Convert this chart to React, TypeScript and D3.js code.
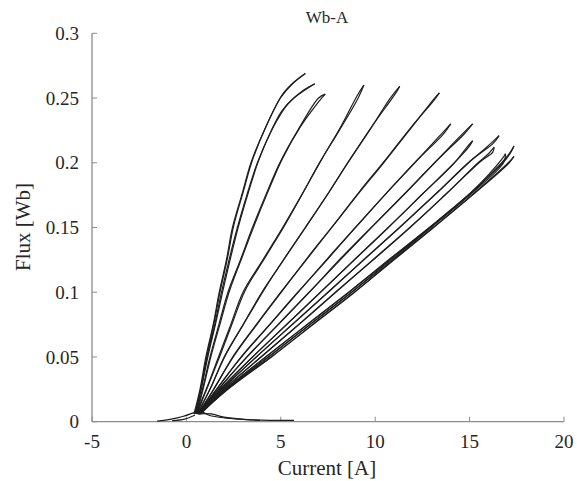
import React from "react";
import * as d3 from "d3";

type Pt = [number, number];

const chartTitle = "Wb-A";
const xTitle = "Current [A]";
const yTitle = "Flux [Wb]";
const xTicks = [-5, 0, 5, 10, 15, 20];
const yTicks = [0, 0.05, 0.1, 0.15, 0.2, 0.25, 0.3];

// each loop: rising branch up to the tip, then falling branch
const loop1: Pt[] = [[0.40,0.006],[0.72,0.025],[1.03,0.05],[1.42,0.075],[1.74,0.1],[2.12,0.125],[2.44,0.15],[2.93,0.175],[3.42,0.2],[4.12,0.225],[4.98,0.25],[5.62,0.261],[6.30,0.269],
  [5.75,0.263],[5.1,0.253],[4.22,0.228],[3.52,0.203],[3.0,0.177],[2.5,0.151],[2.17,0.126],[1.79,0.101],[1.46,0.076],[1.09,0.051],[0.77,0.026],[0.45,0.006]];
const loop2: Pt[] = [[0.45,0.006],[0.76,0.025],[1.1,0.05],[1.5,0.075],[1.86,0.1],[2.26,0.125],[2.7,0.15],[3.2,0.175],[3.76,0.2],[4.5,0.225],[5.05,0.24],[5.7,0.25],[6.8,0.261],
  [6.2,0.256],[5.35,0.245],[4.62,0.228],[3.86,0.203],[3.28,0.177],[2.78,0.152],[2.33,0.126],[1.93,0.101],[1.55,0.076],[1.15,0.051],[0.8,0.026],[0.5,0.006]];
const loop3: Pt[] = [[0.5,0.006],[0.85,0.025],[1.25,0.05],[1.72,0.075],[2.2,0.1],[2.86,0.125],[3.5,0.15],[4.2,0.175],[4.95,0.2],[5.9,0.225],[7.0,0.25],[7.35,0.253],
  [7.0,0.247],[6.05,0.228],[5.08,0.203],[4.3,0.177],[3.6,0.152],[2.95,0.127],[2.28,0.101],[1.79,0.076],[1.31,0.051],[0.9,0.026],[0.55,0.006]];
const loop4: Pt[] = [[0.5,0.006],[1.05,0.025],[1.7,0.05],[2.35,0.075],[3.0,0.1],[4.05,0.125],[5.1,0.15],[6.1,0.175],[7.05,0.2],[8.1,0.225],[9.1,0.25],[9.4,0.26],
  [9.05,0.252],[8.22,0.229],[7.18,0.203],[6.22,0.178],[5.22,0.152],[4.18,0.127],[3.1,0.101],[2.43,0.076],[1.78,0.051],[1.1,0.026],[0.55,0.006]];
const loop5: Pt[] = [[0.55,0.006],[1.25,0.025],[2.0,0.05],[3.0,0.075],[4.0,0.1],[5.15,0.125],[6.3,0.15],[7.45,0.175],[8.55,0.2],[9.7,0.225],[10.8,0.25],[11.3,0.259],
  [11.05,0.253],[9.82,0.228],[8.68,0.203],[7.58,0.178],[6.4,0.152],[5.23,0.127],[4.08,0.101],[3.06,0.076],[2.06,0.051],[1.28,0.026],[0.6,0.006]];
const loop6: Pt[] = [[0.6,0.006],[1.45,0.025],[2.45,0.05],[3.7,0.075],[5.0,0.1],[6.35,0.125],[7.7,0.15],[9.05,0.175],[10.45,0.2],[11.8,0.225],[13.15,0.25],[13.4,0.254],
  [13.1,0.248],[11.93,0.228],[10.58,0.203],[9.18,0.178],[7.8,0.152],[6.43,0.127],[5.08,0.101],[3.78,0.076],[2.53,0.051],[1.48,0.026],[0.65,0.006]];
const loop7: Pt[] = [[0.6,0.006],[1.6,0.025],[2.9,0.05],[4.4,0.075],[5.9,0.1],[7.45,0.125],[8.95,0.15],[10.5,0.175],[12.1,0.2],[13.3,0.219],[14.0,0.23],
  [13.6,0.222],[12.22,0.202],[10.62,0.177],[9.08,0.152],[7.53,0.127],[5.98,0.101],[4.48,0.076],[2.98,0.051],[1.64,0.026],[0.65,0.006]];
const loop8: Pt[] = [[0.6,0.006],[1.7,0.025],[3.2,0.05],[4.85,0.075],[6.5,0.1],[8.15,0.125],[9.8,0.15],[11.5,0.175],[13.15,0.2],[14.4,0.219],[15.16,0.23],
  [14.7,0.222],[13.28,0.202],[11.62,0.177],[9.93,0.152],[8.23,0.127],[6.58,0.101],[4.93,0.076],[3.28,0.051],[1.74,0.026],[0.65,0.006]];
const loop9: Pt[] = [[0.6,0.006],[1.8,0.025],[3.5,0.05],[5.3,0.075],[7.1,0.1],[8.9,0.125],[10.7,0.15],[12.45,0.175],[14.2,0.2],[14.8,0.211],[15.16,0.217],
  [15.0,0.213],[14.33,0.202],[12.58,0.177],[10.83,0.152],[9.03,0.127],[7.18,0.101],[5.38,0.076],[3.58,0.051],[1.84,0.026],[0.65,0.006]];
const loop10: Pt[] = [[0.65,0.006],[1.9,0.025],[3.7,0.05],[5.6,0.075],[7.5,0.1],[9.4,0.125],[11.3,0.15],[13.15,0.175],[14.95,0.2],[15.9,0.212],[16.56,0.221],
  [16.25,0.215],[15.08,0.202],[13.28,0.177],[11.43,0.152],[9.53,0.127],[7.58,0.101],[5.68,0.076],[3.78,0.051],[1.94,0.026],[0.7,0.006]];
const loop11: Pt[] = [[0.65,0.006],[2.0,0.025],[3.95,0.05],[5.95,0.075],[7.9,0.1],[9.9,0.125],[11.85,0.15],[13.7,0.175],[15.45,0.2],[16.0,0.207],[16.3,0.212],
  [16.22,0.208],[15.58,0.201],[13.83,0.177],[11.98,0.152],[10.03,0.127],[7.98,0.101],[6.03,0.076],[4.03,0.051],[2.04,0.026],[0.7,0.006]];
const loop12: Pt[] = [[0.7,0.006],[2.1,0.025],[4.2,0.05],[6.4,0.075],[8.6,0.1],[10.75,0.125],[12.9,0.15],[14.95,0.175],[16.7,0.2],[17.1,0.207],[17.35,0.213],
  [17.22,0.209],[16.83,0.201],[15.08,0.177],[13.03,0.152],[10.88,0.127],[8.68,0.101],[6.48,0.076],[4.28,0.051],[2.14,0.026],[0.75,0.006]];
const loop13: Pt[] = [[0.7,0.006],[2.2,0.025],[4.5,0.05],[6.7,0.075],[8.9,0.1],[11.0,0.125],[13.1,0.15],[15.15,0.175],[17.1,0.2],[17.35,0.205],
  [17.12,0.201],[15.28,0.177],[13.23,0.152],[11.13,0.127],[8.98,0.101],[6.78,0.076],[4.58,0.051],[2.24,0.026],[0.75,0.006]];
const loop14: Pt[] = [[0.7,0.006],[2.15,0.025],[4.35,0.05],[6.55,0.075],[8.75,0.1],[10.9,0.125],[12.95,0.15],[15.0,0.175],[16.8,0.2],[16.9,0.207],
  [16.72,0.203],[15.08,0.177],[13.08,0.152],[10.98,0.127],[8.83,0.101],[6.63,0.076],[4.43,0.051],[2.19,0.026],[0.75,0.006]];

const tailLeft1: Pt[] = [[0.4,0.007],[-0.2,0.004],[-0.8,0.002],[-1.55,0.0005]];
const tailLeft2: Pt[] = [[0.45,0.005],[-0.1,0.002],[-0.75,0.0008]];
const tailRight1: Pt[] = [[0.4,0.006],[0.75,0.008],[1.2,0.005],[2.0,0.003],[3.5,0.0015],[5.7,0.001]];
const tailRight2: Pt[] = [[0.6,0.006],[1.3,0.006],[2.0,0.0035],[3.0,0.0018],[3.9,0.001]];

const loops = [loop1, loop2, loop3, loop4, loop5, loop6, loop7, loop8, loop9, loop10, loop11, loop12, loop13, loop14];
const tails = [tailLeft1, tailLeft2, tailRight1, tailRight2];

function splitAtTip(l: Pt[]): [Pt[], Pt[]] {
  let k = 0;
  l.forEach((p, i) => { if (p[1] > l[k][1]) k = i; });
  return [l.slice(0, k + 1), l.slice(k)];
}

export default function App() {
  const W = 577, H = 481;
  const x = d3.scaleLinear().domain([-5, 20]).range([92, 564]);
  const y = d3.scaleLinear().domain([0, 0.3]).range([421.7, 33.3]);
  const line = d3.line<Pt>().x(d => x(d[0])).y(d => y(d[1])).curve(d3.curveCatmullRom.alpha(0.5));
  const font = "'Liberation Serif', 'Times New Roman', serif";
  const axisColor = "#8c8c8c";
  const txt = "#262626";
  const branches: Pt[][] = [];
  loops.forEach(l => { const [u, d] = splitAtTip(l); branches.push(u, d); });
  return (
    <svg width={W} height={H} style={{ position: "absolute", left: 0, top: 0, background: "#fff", fontFamily: font }}>
      <text x={327} y={23} textAnchor="middle" fontSize={17} fill={txt} style={{ fontFamily: font }}>{chartTitle}</text>
      <line x1={x(-5)} x2={x(20)} y1={y(0)} y2={y(0)} stroke={axisColor} strokeWidth={1.3} />
      <line x1={x(-5)} x2={x(-5)} y1={y(0)} y2={y(0.3)} stroke={axisColor} strokeWidth={1.3} />
      {xTicks.map(t => (
        <g key={"xt" + t}>
          <line x1={x(t)} x2={x(t)} y1={y(0)} y2={y(0) - 5} stroke={axisColor} strokeWidth={1} />
          <text x={x(t)} y={448} textAnchor="middle" fontSize={19} fill={txt} style={{ fontFamily: font }}>{t}</text>
        </g>
      ))}
      {yTicks.map(t => (
        <g key={"yt" + t}>
          <line x1={x(-5)} x2={x(-5) + 5} y1={y(t)} y2={y(t)} stroke={axisColor} strokeWidth={1} />
          <text x={79} y={y(t)} dy="0.35em" textAnchor="end" fontSize={19} fill={txt} style={{ fontFamily: font }}>{String(t)}</text>
        </g>
      ))}
      <text x={327} y={475} textAnchor="middle" fontSize={21} fill={txt} style={{ fontFamily: font }}>{xTitle}</text>
      <text transform={`translate(30,227) rotate(-90)`} textAnchor="middle" fontSize={21} fill={txt} style={{ fontFamily: font }}>{yTitle}</text>
      <g fill="none" stroke="#1e1e1e" strokeWidth={1.2} strokeLinejoin="round">
        {branches.map((l, i) => <path key={"b" + i} d={line(l) || ""} />)}
        {tails.map((l, i) => <path key={"t" + i} d={line(l) || ""} />)}
      </g>
    </svg>
  );
}
